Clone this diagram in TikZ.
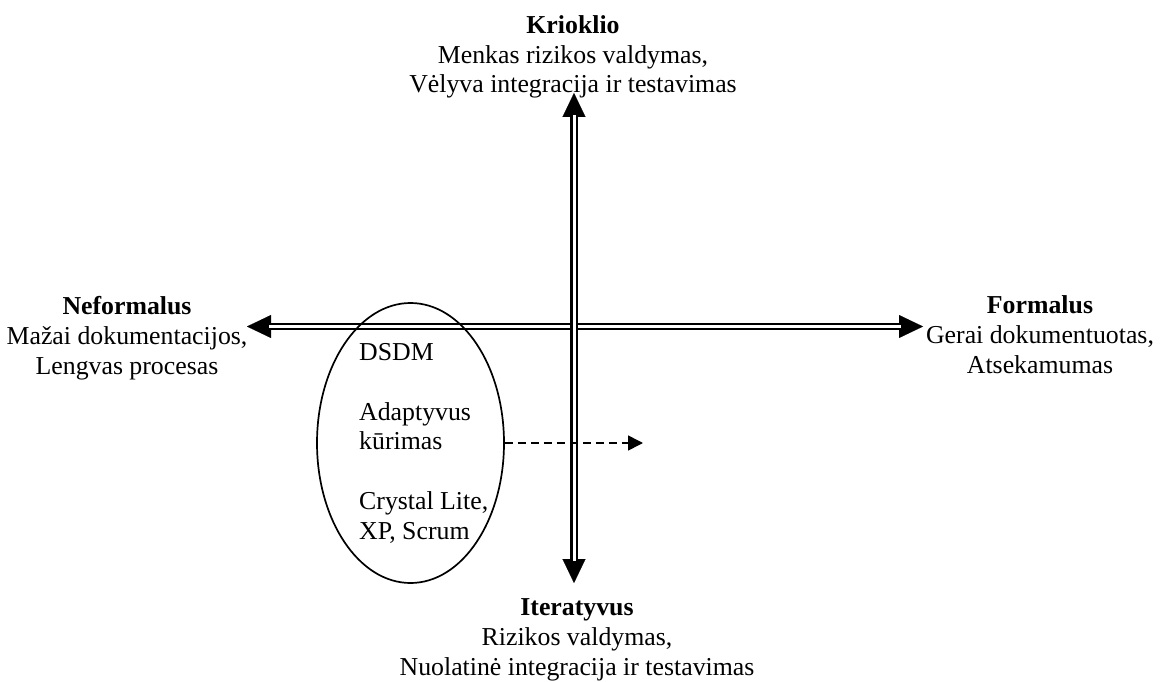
\documentclass[tikz,border=0pt]{standalone}
\usepackage{fontspec}
\setmainfont{Liberation Serif}
\usetikzlibrary{arrows.meta,shapes.geometric}
\begin{document}
\begin{tikzpicture}[x=1pt,y=-1pt,
  lbl/.style={font=\fontsize{25.8}{29.7}\selectfont, inner sep=0pt, align=center, anchor=base},
  grptext/.style={font=\fontsize{25.8}{29.7}\selectfont, inner sep=0pt, align=left, anchor=base west},
  axistip/.style={line width=0.1pt, {Triangle[length=24pt,width=23pt]}-{Triangle[length=24pt,width=23pt]}},
  axisline/.style={double, double distance=3pt, line width=2.2pt, shorten >=22pt, shorten <=22pt},
  group/.style={draw, ellipse, line width=1.7pt, inner sep=0pt, minimum width=187pt, minimum height=280pt},
  hint/.style={dashed, dash pattern=on 8pt off 5pt, line width=1.6pt, -{Triangle[length=15pt,width=15pt]}}
]
\useasboundingbox (0,0) rectangle (1165,682);

% axis end points
\coordinate (W) at (247,326.5);
\coordinate (E) at (923,326.5);
\coordinate (N) at (574,93);
\coordinate (S) at (574,583);

% horizontal axis
\draw[axistip] (W) -- (E);
\draw[axisline] (W) -- (E);
% vertical axis
\draw[axistip] (N) -- (S);
\draw[axisline] (N) -- (S);

% group of agile methods, drawn over the axes
\node[group] (grp) at (410.5,443) {};
\node[grptext] (grptxt) at (359,539) {DSDM\\[29.7pt]Adaptyvus\\kūrimas\\[29.7pt]Crystal Lite,\\XP, Scrum};
\coordinate (trend) at (643,443);
\draw[hint] (grp.east) -- (trend);

% axis labels (anchored on the baseline of the last line)
\node[lbl] (top) at (573,93) {\textbf{Krioklio}\\Menkas rizikos valdymas,\\Vėlyva integracija ir testavimas};
\node[lbl] (left) at (127,374) {\textbf{Neformalus}\\Mažai dokumentacijos,\\Lengvas procesas};
\node[lbl] (right) at (1040,373) {\textbf{Formalus}\\Gerai dokumentuotas,\\Atsekamumas};
\node[lbl] (bottom) at (577,675) {\textbf{Iteratyvus}\\Rizikos valdymas,\\Nuolatinė integracija ir testavimas};
\end{tikzpicture}
\end{document}
